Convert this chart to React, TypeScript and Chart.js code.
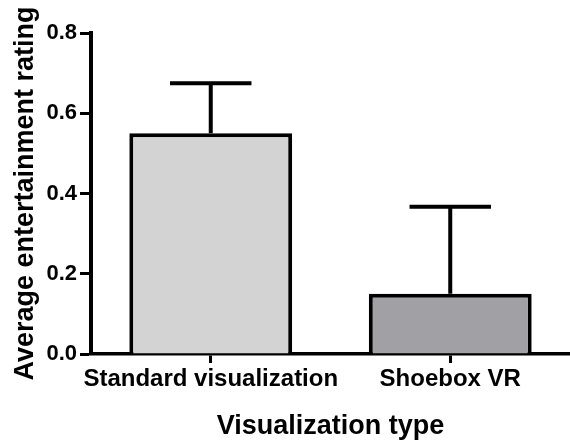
import React, { useEffect, useRef } from "react";
import { Chart, registerables } from "chart.js";

Chart.register(...registerables);

const categories = ["Standard visualization", "Shoebox VR"];
const means = [0.55, 0.15];
const errors = [0.125, 0.217];
const barColors = ["#d3d3d3", "#a1a0a5"];
const yTicks = [0, 0.2, 0.4, 0.6, 0.8];

const FONT = "'Liberation Sans', Arial, Helvetica, sans-serif";

const errorBarPlugin = {
  id: "errorBars",
  afterDatasetsDraw(chart: any) {
    const ctx = chart.ctx;
    const yScale = chart.scales.y;
    const meta = chart.getDatasetMeta(0);
    ctx.save();
    ctx.strokeStyle = "#000";
    ctx.lineWidth = 4;
    ctx.lineCap = "butt";
    meta.data.forEach((el: any, i: number) => {
      const top = yScale.getPixelForValue(means[i] + errors[i]);
      const half = el.width / 4;
      ctx.beginPath();
      ctx.moveTo(el.x, el.y);
      ctx.lineTo(el.x, top);
      ctx.moveTo(el.x - half, top);
      ctx.lineTo(el.x + half, top);
      ctx.stroke();
    });
    ctx.restore();
  },
};

export default function App() {
  const ref = useRef<HTMLCanvasElement>(null);
  useEffect(() => {
    document.body.style.margin = "0";
    const chart = new Chart(ref.current!, {
      type: "bar",
      data: {
        labels: categories,
        datasets: [
          {
            data: means,
            backgroundColor: barColors,
            borderColor: "#000",
            borderWidth: 4,
            borderSkipped: "start",
            categoryPercentage: 1,
            barPercentage: 0.68,
          },
        ],
      },
      options: {
        animation: false,
        responsive: false,
        maintainAspectRatio: false,
        layout: { padding: { top: 33, left: 6, right: -5, bottom: 0 } },
        plugins: { legend: { display: false }, tooltip: { enabled: false } },
        scales: {
          x: {
            grid: {
              offset: false,
              drawOnChartArea: false,
              tickLength: 9,
              tickWidth: 3,
              tickColor: "#000",
            },
            border: { color: "#000", width: 3.5 },
            ticks: {
              color: "#000",
              padding: 2,
              autoSkip: false,
              font: { family: FONT, size: 24, weight: "bold" },
              maxRotation: 0,
              minRotation: 0,
            },
            title: {
              display: true,
              text: "Visualization type",
              color: "#000",
              font: { family: FONT, size: 27, weight: "bold", lineHeight: 1 },
              padding: { top: 0, bottom: 1 },
            },
            afterFit: (s: any) => {
              s.height = 87;
            },
          },
          y: {
            min: 0,
            max: 0.8,
            afterBuildTicks: (s: any) => {
              s.ticks = yTicks.map((v) => ({ value: v }));
            },
            grid: {
              drawOnChartArea: false,
              tickLength: 11,
              tickWidth: 3,
              tickColor: "#000",
            },
            border: { color: "#000", width: 4 },
            ticks: {
              color: "#000",
              padding: 3,
              font: { family: FONT, size: 22, weight: "bold" },
              callback: (v: any) => Number(v).toFixed(1),
            },
            title: {
              display: true,
              text: "Average entertainment rating",
              color: "#000",
              font: { family: FONT, size: 27, weight: "bold", lineHeight: 1 },
              padding: { top: 6, bottom: 0 },
            },
            afterFit: (s: any) => {
              s.width = 85;
            },
          },
        },
      },
      plugins: [errorBarPlugin],
    });
    return () => chart.destroy();
  }, []);
  return (
    <div style={{ width: 570, height: 441, position: "relative" }}>
      <canvas ref={ref} width={570} height={441} style={{ width: 570, height: 441 }} />
    </div>
  );
}
